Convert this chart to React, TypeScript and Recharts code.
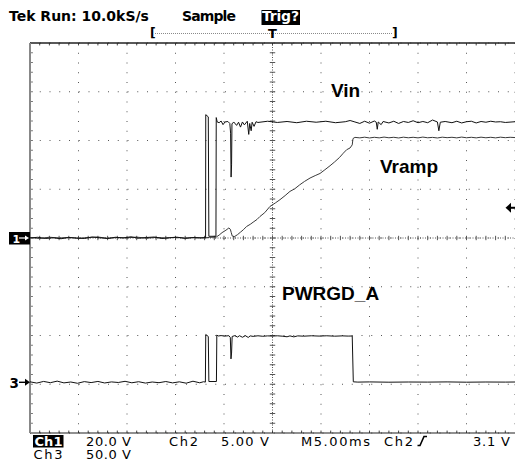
import React from 'react';
import { LineChart, Line, XAxis, YAxis, CartesianGrid, ReferenceLine, ReferenceDot } from 'recharts';

// ---- scope settings ----
const CH1_VOLTS_PER_DIV = 20;
const CH2_VOLTS_PER_DIV = 5;
const CH3_VOLTS_PER_DIV = 50;
const CH1_GROUND_DIV = 0;
const CH2_GROUND_DIV = 0;
const CH3_GROUND_DIV = -2.96;
const TRIGGER_LEVEL_V = 3.1; // Ch2
const TIME_DOMAIN: [number, number] = [-25, 25]; // ms, 5 ms/div
const DIV_DOMAIN: [number, number] = [-4, 4];

const majorTimeTicks = [-25, -20, -15, -10, -5, 0, 5, 10, 15, 20, 25];
const majorDivTicks = [-4, -3, -2, -1, 0, 1, 2, 3, 4];

// ---- Ch1: Vin [ms, V] ----
const vinSamples: [number, number][] = [
  [-25, 0.0], [-24.2, 0.3], [-23.4, -0.2], [-22.6, 0.1], [-21.8, -0.3], [-21, 0.2], [-20.2, 0.0], [-19.4, -0.2],
  [-18.6, 0.4], [-17.8, 0.1], [-17, -0.2], [-16.2, 0.3], [-15.4, 0.0], [-14.6, 0.5], [-13.8, -0.1], [-13, 0.2],
  [-12.2, 0.4], [-11.4, -0.2], [-10.6, 0.1], [-9.8, 0.3], [-9, -0.1], [-8.2, 0.2], [-7.4, 0.0], [-6.9, 0.2],
  [-6.88, 50.6], [-6.62, 49.7], [-6.56, 0.7], [-5.83, 0.7], [-5.8, 49.4], [-5.7, 47.6], [-5.5, 47.3], [-5.3, 48.0],
  [-5.1, 46.5], [-4.9, 47.6], [-4.6, 47.8], [-4.4, 47.0], [-4.32, 43], [-4.27, 25.0], [-4.22, 30], [-4.18, 46.8],
  [-4.0, 47.6], [-3.7, 46.2], [-3.5, 47.5], [-3.3, 45.5], [-3.1, 47.6], [-2.9, 46.4], [-2.6, 47.9], [-2.45, 42.5],
  [-2.35, 47.0], [-2.2, 44.0], [-2.1, 47.5], [-1.9, 45.8], [-1.7, 47.7], [-1.5, 47.4], [-0.5, 47.9], [0.5, 47.4],
  [1.5, 47.8], [2.5, 47.3], [3.5, 47.9], [4.5, 47.5], [5.5, 47.9], [6.5, 47.3], [7.5, 47.7], [8.0, 48.2],
  [8.5, 47.6], [9.0, 47.0], [9.5, 47.9], [10.0, 47.1], [10.5, 48.0], [10.7, 47.5], [10.8, 44.6], [10.9, 47.6],
  [11.2, 46.5], [11.4, 47.8], [12, 47.2], [12.5, 47.9], [13, 47.0], [13.5, 47.8], [14, 47.4], [14.5, 48.1],
  [15, 47.3], [15.5, 47.8], [16, 47.3], [16.5, 48.4], [17.0, 47.6], [17.15, 44.0], [17.3, 47.5], [17.8, 47.8],
  [18.5, 47.3], [19, 47.9], [19.5, 47.2], [20, 47.7], [20.5, 47.9], [21, 47.2], [21.5, 47.8], [22, 47.5],
  [22.5, 47.9], [23, 47.6], [23.5, 47.7], [24, 47.4], [25, 47.7],
];

// ---- Ch2: Vramp [ms, V] ----
const vrampSamples: [number, number][] = [
  [-25, 0.05], [-24, -0.05], [-23, 0.08], [-22, 0], [-21, 0.06], [-20, -0.04], [-19, 0.05], [-18, 0.1],
  [-17, -0.03], [-16, 0.05], [-15, 0.02], [-14, 0.09], [-13, -0.02], [-12, 0.06], [-11, 0.0], [-10, 0.08],
  [-9, -0.03], [-8, 0.05], [-7, 0.02], [-6.5, 0.06], [-5.8, 0.1], [-5.5, 0.3], [-5.2, 0.55], [-4.8, 0.8],
  [-4.5, 1.03], [-4.35, 0.9], [-4.25, 0.55], [-4.15, 0.2], [-3.95, 0.12], [-3.6, 0.35], [-3.3, 0.6], [-3.0, 0.85],
  [-2.66, 1.19], [-2.3, 1.4], [-2.0, 1.62], [-1.6, 1.9], [-1.3, 2.2], [-0.8, 2.6], [-0.26, 3.24], [0.3, 3.6],
  [0.77, 3.93], [1.3, 4.35], [1.8, 4.78], [2.3, 5.05], [2.8, 5.45], [3.3, 5.8], [3.87, 6.15], [4.4, 6.4],
  [4.9, 6.62], [5.4, 7.0], [5.93, 7.41], [6.4, 7.8], [6.9, 8.25], [7.3, 8.7], [7.65, 9.06], [7.99, 9.23],
  [8.22, 9.55], [8.3, 10.2], [8.5, 10.32], [9, 10.27], [9.5, 10.34], [10, 10.26], [10.5, 10.33], [11, 10.27],
  [11.5, 10.35], [12, 10.28], [12.5, 10.33], [13, 10.26], [13.5, 10.34], [14, 10.28], [14.5, 10.33], [15, 10.27],
  [15.5, 10.35], [16, 10.28], [16.5, 10.32], [17, 10.26], [17.5, 10.34], [18, 10.29], [18.5, 10.33], [19, 10.27],
  [19.5, 10.35], [20, 10.28], [20.5, 10.33], [21, 10.27], [21.5, 10.34], [22, 10.28], [22.5, 10.33], [23, 10.27],
  [23.5, 10.34], [24, 10.29], [24.5, 10.33], [25, 10.3],
];

// ---- Ch3: PWRGD_A [ms, V] ----
const pwrgdSamples: [number, number][] = [
  [-25, 0.5], [-24.3, -0.8], [-23.6, 0.9], [-22.9, -0.4], [-22.2, 1.2], [-21.5, -0.6], [-20.8, 0.3], [-20.1, -1.0],
  [-19.4, 0.7], [-18.7, -0.3], [-18, 0.9], [-17.3, -0.7], [-16.6, 0.4], [-15.9, -0.2], [-15.2, 1.0], [-14.5, -0.5],
  [-13.8, 0.6], [-13.1, -0.8], [-12.4, 0.3], [-11.7, -0.4], [-11, 0.8], [-10.3, -0.6], [-9.6, 0.5], [-8.9, -0.9],
  [-8.2, 1.1], [-7.5, -0.5], [-7.1, 0.6], [-6.92, 0.2], [-6.88, 49], [-6.62, 47], [-6.56, 0.8], [-5.78, 0.8],
  [-5.74, 48.5], [-5.6, 47.5], [-5.3, 47.9], [-4.9, 47.4], [-4.5, 47.8], [-4.35, 46], [-4.28, 24], [-4.22, 30],
  [-4.16, 47], [-3.9, 47.8], [-3.6, 46.4], [-3.4, 47.8], [-3.1, 46.2], [-2.8, 47.8], [-2.5, 46.0], [-2.3, 47.6],
  [-2.0, 47.1], [-1.5, 47.7], [-1.0, 47.2], [-0.5, 47.6], [0, 47.4], [0.5, 47.7], [1.0, 47.3], [1.5, 46.7],
  [1.8, 47.6], [2.2, 46.6], [2.6, 47.6], [3.2, 47.3], [4.0, 47.7], [4.8, 47.4], [5.6, 47.7], [6.4, 47.3],
  [7.2, 47.6], [7.8, 47.4], [8.22, 47.5], [8.33, 0.5], [8.8, 0.2], [10, 0.4], [12, 0.1], [14, 0.3],
  [16, 0.2], [18, 0.4], [20, 0.1], [22, 0.3], [24, 0.2], [25, 0.3],
];

const toDiv = (samples: [number, number][], ground: number, vPerDiv: number) =>
  samples.map(([t, v]) => ({ t, y: ground + v / vPerDiv }));

const vinData = toDiv(vinSamples, CH1_GROUND_DIV, CH1_VOLTS_PER_DIV);
const vrampData = toDiv(vrampSamples, CH2_GROUND_DIV, CH2_VOLTS_PER_DIV);
const pwrgdData = toDiv(pwrgdSamples, CH3_GROUND_DIV, CH3_VOLTS_PER_DIV);

// minor graticule positions (1/5 division)
const minorTimeTicks = Array.from({ length: 49 }, (_, i) => -24 + i);
const minorDivTicks = Array.from({ length: 39 }, (_, i) => Math.round((-3.8 + i * 0.2) * 10) / 10);

const AX = { xAxisId: 't', yAxisId: 'd' } as const;
const HEAD = 'DejaVu Sans, sans-serif';

const Ch1Marker = (p: any) => {
  const { cx, cy } = p;
  return (
    <g>
      <rect x={cx - 21} y={cy - 6} width={21} height={12.5} fill="#000" />
      <text x={cx - 17.5} y={cy + 4.5} fill="#fff" fontSize={11} fontFamily={HEAD} fontWeight="bold">1</text>
      <line x1={cx - 11} y1={cy} x2={cx - 4} y2={cy} stroke="#fff" strokeWidth={1.2} />
      <path d={`M${cx - 1},${cy} l-4,-2.5 v5 z`} fill="#fff" />
    </g>
  );
};

const Ch3Marker = (p: any) => {
  const { cx, cy } = p;
  return (
    <g>
      <text x={cx - 20.5} y={cy + 6} fill="#000" fontSize={13.5} fontFamily={HEAD} fontWeight="bold">3</text>
      <line x1={cx - 11} y1={cy} x2={cx - 4} y2={cy} stroke="#000" strokeWidth={1.4} />
      <path d={`M${cx},${cy} l-5,-3.5 v7 z`} fill="#000" />
    </g>
  );
};

const TrigMarker = (p: any) => {
  const { cx, cy } = p;
  return (
    <g>
      <path d={`M${cx - 9.5},${cy} l5.5,-5 v10 z`} fill="#000" />
      <line x1={cx - 5} y1={cy} x2={cx} y2={cy} stroke="#000" strokeWidth={2} />
    </g>
  );
};

export default function App() {
  return (
    <div style={{ position: 'absolute', left: 0, top: 0, width: 515, height: 466, background: '#fff' }}>
      <LineChart width={515} height={466} margin={{ top: 43, right: 0, bottom: 33, left: 30 }}>
        <XAxis {...{ xAxisId: 't' }} type="number" dataKey="t" domain={TIME_DOMAIN} ticks={majorTimeTicks} hide allowDataOverflow />
        <YAxis {...{ yAxisId: 'd' }} type="number" domain={DIV_DOMAIN} ticks={majorDivTicks} hide allowDataOverflow />
        <CartesianGrid {...AX} stroke="#555" strokeDasharray="1 8.75" />
        {/* centre crosshair */}
        <ReferenceLine {...AX} x={0} stroke="#555" strokeDasharray="1 1.5" />
        <ReferenceLine {...AX} y={0} stroke="#555" strokeDasharray="1 1.5" />
        {minorTimeTicks.map((t) => (
          <ReferenceLine key={'ch' + t} {...AX} segment={[{ x: t, y: -0.045 }, { x: t, y: 0.045 }]} stroke="#555" />
        ))}
        {minorDivTicks.map((d) => (
          <ReferenceLine key={'cv' + d} {...AX} segment={[{ x: -0.28, y: d }, { x: 0.28, y: d }]} stroke="#555" />
        ))}
        {/* border minor ticks */}
        {minorTimeTicks.map((t) => (
          <ReferenceLine key={'tt' + t} {...AX} segment={[{ x: t, y: 4 }, { x: t, y: 3.95 }]} stroke="#444" />
        ))}
        {minorTimeTicks.map((t) => (
          <ReferenceLine key={'bt' + t} {...AX} segment={[{ x: t, y: -4 }, { x: t, y: -3.95 }]} stroke="#444" />
        ))}
        {minorDivTicks.map((d) => (
          <ReferenceLine key={'lt' + d} {...AX} segment={[{ x: -25, y: d }, { x: -24.7, y: d }]} stroke="#777" />
        ))}
        {/* borders */}
        <ReferenceLine {...AX} y={4} stroke="#222" strokeWidth={1.5} />
        <ReferenceLine {...AX} y={-4} stroke="#222" strokeWidth={1.2} />
        <ReferenceLine {...AX} x={-25} stroke="#888" strokeWidth={2} />

        <Line {...AX} data={pwrgdData} dataKey="y" type="linear" dot={false} stroke="#111" strokeWidth={1} isAnimationActive={false} />
        <Line {...AX} data={vrampData} dataKey="y" type="linear" dot={false} stroke="#3a3a3a" strokeWidth={1} isAnimationActive={false} />
        <Line {...AX} data={vinData} dataKey="y" type="linear" dot={false} stroke="#111" strokeWidth={1} isAnimationActive={false} />

        <ReferenceDot {...AX} x={-25} y={CH1_GROUND_DIV} r={0} ifOverflow="visible" shape={Ch1Marker} />
        <ReferenceDot {...AX} x={-25} y={CH3_GROUND_DIV} r={0} ifOverflow="visible" shape={Ch3Marker} />
        <ReferenceDot {...AX} x={25} y={CH2_GROUND_DIV + TRIGGER_LEVEL_V / CH2_VOLTS_PER_DIV} r={0} ifOverflow="visible" shape={TrigMarker} />
      </LineChart>

      <svg width={515} height={466} style={{ position: 'absolute', left: 0, top: 0, pointerEvents: 'none' }}>
        {/* header */}
        <text x={9} y={21} fontFamily={HEAD} fontWeight="bold" fontSize={14} fill="#000">Tek Run: 10.0kS/s</text>
        <text x={182} y={21} fontFamily={HEAD} fontWeight="bold" fontSize={14} fill="#000" textLength={54}>Sample</text>
        <rect x={261.5} y={10} width={38.5} height={15} fill="#000" />
        <text x={262} y={21} fontFamily={HEAD} fontWeight="bold" fontSize={14} fill="#fff" textLength={37}>Trig?</text>
        <text x={150} y={37} fontFamily={HEAD} fontWeight="bold" fontSize={12.5} fill="#000">[</text>
        <line x1={155} y1={33.5} x2={392} y2={33.5} stroke="#8a8a8a" strokeDasharray="1 1" />
        <text x={268} y={38} fontFamily={HEAD} fontWeight="bold" fontSize={13} fill="#000">T</text>
        <text x={392} y={37} fontFamily={HEAD} fontWeight="bold" fontSize={12.5} fill="#000">]</text>

        {/* trace labels */}
        <text x={331} y={97} fontFamily="Liberation Sans, Arial, sans-serif" fontWeight="bold" fontSize={19} fill="#000">Vin</text>
        <text x={380} y={172.5} fontFamily="Liberation Sans, Arial, sans-serif" fontWeight="bold" fontSize={19} fill="#000">Vramp</text>
        <text x={282} y={300} fontFamily="Liberation Sans, Arial, sans-serif" fontWeight="bold" fontSize={19} fill="#000">PWRGD_A</text>

        {/* footer */}
        <rect x={33} y={435} width={30.5} height={12.5} fill="#000" />
        <text x={34.5} y={445.5} fontFamily={HEAD} fontWeight="bold" fontSize={13} fill="#fff" textLength={28}>Ch1</text>
        <text x={86} y={445.5} fontFamily={HEAD} fontSize={13} fill="#000" textLength={45}>20.0 V</text>
        <text x={169} y={445.5} fontFamily={HEAD} fontSize={13} fill="#000" textLength={29}>Ch2</text>
        <text x={221} y={445.5} fontFamily={HEAD} fontSize={13} fill="#000" textLength={48}>5.00 V</text>
        <text x={301} y={445.5} fontFamily={HEAD} fontSize={13} fill="#000" textLength={69}>M5.00ms</text>
        <text x={384} y={445.5} fontFamily={HEAD} fontSize={13} fill="#000" textLength={29}>Ch2</text>
        <path d="M417.5,445.5 h2.5 l4,-9 h3" fill="none" stroke="#000" strokeWidth={1.6} />
        <text x={473} y={445.5} fontFamily={HEAD} fontSize={13} fill="#000" textLength={37}>3.1 V</text>
        <text x={33.5} y={459} fontFamily={HEAD} fontSize={13} fill="#000" textLength={29}>Ch3</text>
        <text x={86} y={459} fontFamily={HEAD} fontSize={13} fill="#000" textLength={45}>50.0 V</text>
      </svg>
    </div>
  );
}
